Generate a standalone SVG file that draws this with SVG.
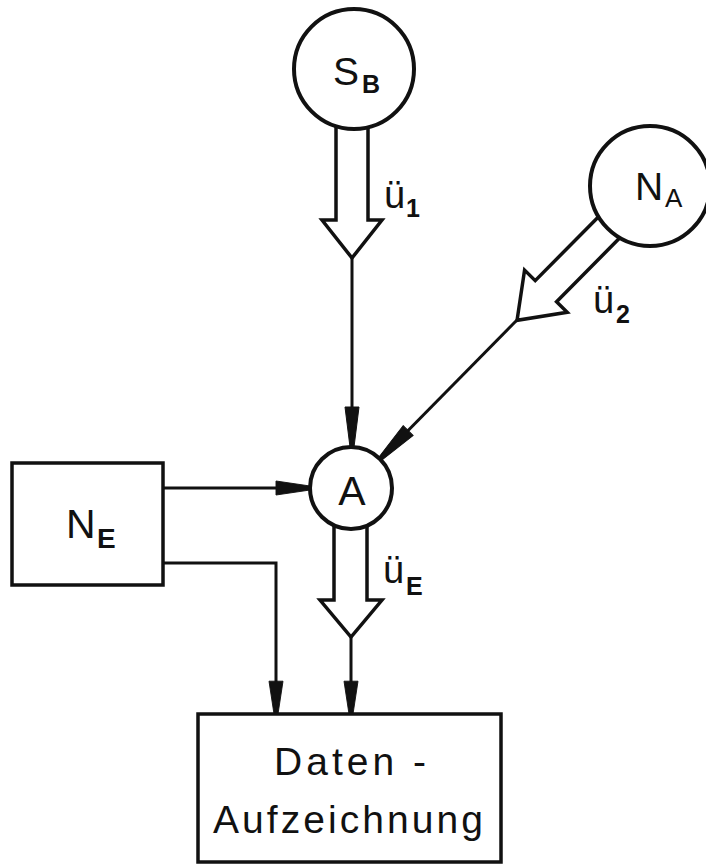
<svg xmlns="http://www.w3.org/2000/svg" xmlns:xlink="http://www.w3.org/1999/xlink" width="706" height="865" viewBox="0 0 706 865">
<style>
.node{fill:#fff;stroke:#111;stroke-width:4}
.box{fill:#fff;stroke:#111;stroke-width:3.5}
.line{fill:none;stroke:#111;stroke-width:3}
.hollow{fill:#fff;stroke:#111;stroke-width:3.5;stroke-linejoin:miter}
.head{fill:#111;stroke:#111;stroke-width:1}
.t{font-family:"Liberation Sans",Arial,sans-serif;fill:#111}
.big{font-size:39px}
.sub{font-size:25px;font-weight:bold}
.lab{font-size:38px}
</style>
<defs>
<path id="ah" d="M-7,-40 L7,-40 L2,0 L-2,0 Z"/>
</defs>
<rect width="706" height="865" fill="#fff"/>

<g id="connectors">
<!-- S_B hollow arrow -->
<path class="hollow" d="M336,126 L336,220 L322,220 L352,258 L382,220 L368,220 L368,127"/>
<line class="line" x1="352" y1="258" x2="352" y2="445"/>
<use href="#ah" class="head" transform="translate(352,447)"/>
<text class="t lab" x="384" y="208">ü</text>
<text class="t sub" x="406" y="217">1</text>

<!-- N_A hollow arrow (diagonal) -->
<path class="hollow" transform="translate(650,186) rotate(44.7)" d="M-15,58 L-15,148 L-30,148 L0,189 L30,148 L15,148 L15,58"/>
<line class="line" x1="517" y1="320" x2="381" y2="458"/>
<use href="#ah" class="head" transform="translate(380,459) rotate(44.7)"/>
<text class="t lab" x="593" y="313">ü</text>
<text class="t sub" x="616" y="323">2</text>

<!-- N_E to A -->
<line class="line" x1="163" y1="488" x2="308" y2="488"/>
<use href="#ah" class="head" transform="translate(310,488) rotate(-90) scale(1,0.85)"/>

<!-- N_E to Daten -->
<polyline class="line" points="163,563 276,563 276,712"/>
<use href="#ah" class="head" transform="translate(276,714) scale(1,0.82)"/>

<!-- A to Daten hollow arrow -->
<path class="hollow" d="M334,525 L334,600 L320,600 L351,637 L382,600 L367,600 L367,525"/>
<line class="line" x1="351" y1="637" x2="351" y2="712"/>
<use href="#ah" class="head" transform="translate(351,714) scale(1,0.82)"/>
<text class="t lab" x="383" y="583">ü</text>
<text class="t sub" x="406" y="595">E</text>
</g>

<g id="node-SB">
<circle class="node" cx="354" cy="69" r="60"/>
<text class="t big" x="333" y="85">S</text>
<text class="t sub" x="362" y="93">B</text>
</g>

<g id="node-NA">
<circle class="node" cx="650" cy="186" r="60"/>
<text class="t big" x="635" y="200">N</text>
<text class="t" style="font-size:26px" x="665" y="207">A</text>
</g>

<g id="node-A">
<circle class="node" cx="351" cy="488" r="41"/>
<text class="t" style="font-size:41px" x="352" y="505" text-anchor="middle">A</text>
</g>

<g id="node-NE">
<rect class="box" x="12" y="463" width="151" height="122"/>
<text class="t" style="font-size:41px" x="66" y="538">N</text>
<text class="t sub" style="font-size:28px" x="97" y="548">E</text>
</g>

<g id="node-Daten">
<rect class="box" x="198" y="714" width="303" height="148"/>
<text class="t big" x="274" y="775" textLength="152">Daten -</text>
<text class="t big" x="213" y="833" textLength="270">Aufzeichnung</text>
</g>
</svg>
